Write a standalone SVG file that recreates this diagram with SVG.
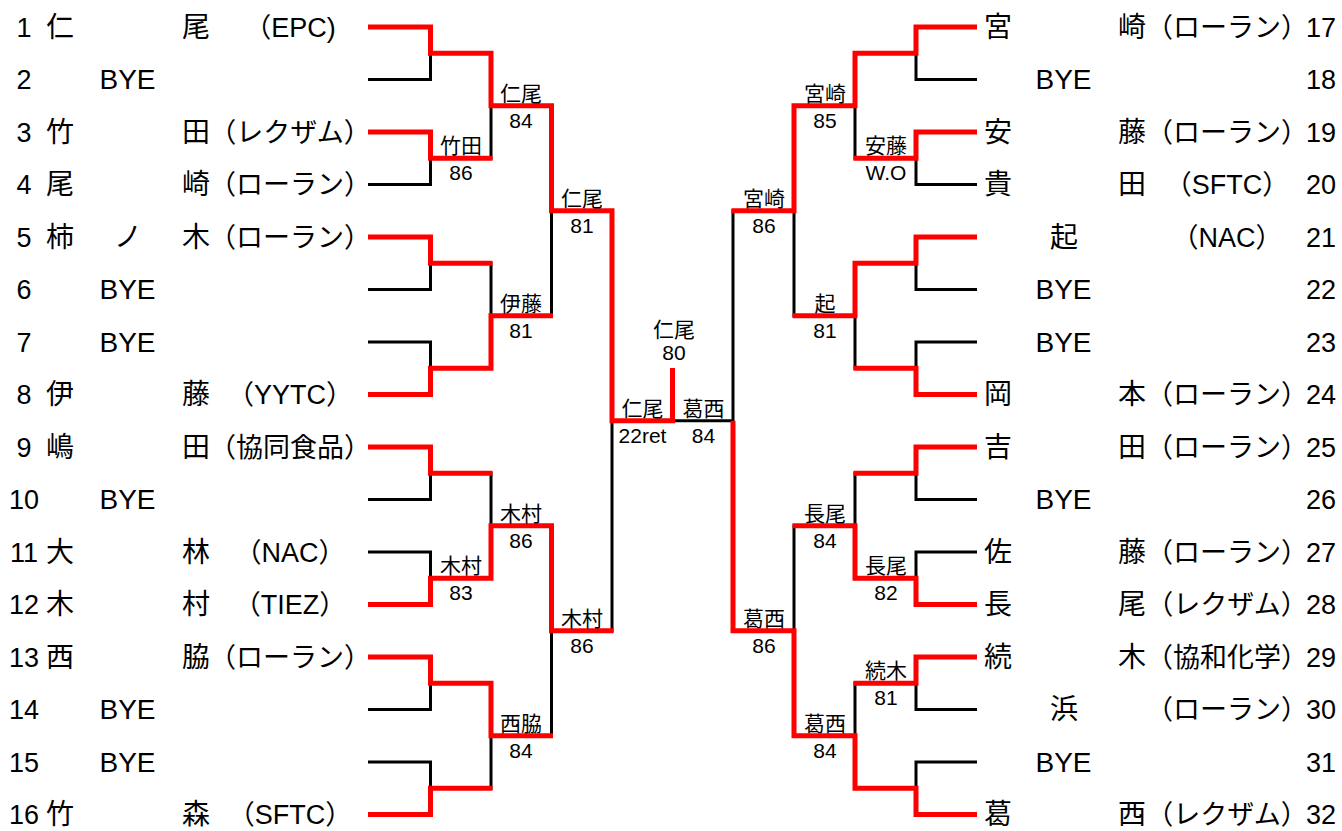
<svg xmlns="http://www.w3.org/2000/svg" width="1342" height="831" viewBox="0 0 1342 831">
<style>
text{font-family:"Liberation Sans","Noto Sans CJK JP",sans-serif;fill:#000}
.t{font-size:28px}
.c{font-size:27px;text-anchor:middle}
.n{font-size:27px;text-anchor:middle}
.m{text-anchor:middle}
.e{text-anchor:end}
.l{font-size:21px;text-anchor:middle}
.bk{fill:none;stroke:#000;stroke-width:3}
.rd{fill:none;stroke:#f00;stroke-width:5;stroke-linejoin:miter}
</style>
<rect width="1342" height="831" fill="#fff"/>
<g id="connectors">
<path class="bk" d="M368 27H430.5V79.5H368M368 132H430.5V184.5H368M368 237H430.5V289.5H368M368 342H430.5V394.5H368M368 447H430.5V499.5H368M368 552H430.5V604.5H368M368 657H430.5V709.5H368M368 762H430.5V814.5H368"/>
<path class="bk" d="M430.5 53.25H491V158.25H430.5M430.5 263.25H491V368.25H430.5M430.5 473.25H491V578.25H430.5M430.5 683.25H491V788.25H430.5"/>
<path class="bk" d="M491 105.75H551.5V315.75H491M491 525.75H551.5V735.75H491"/>
<path class="bk" d="M551.5 210.75H612V630.75H551.5M612 420.75H733"/>
<path class="bk" d="M977 27H916V79.5H977M977 132H916V184.5H977M977 237H916V289.5H977M977 342H916V394.5H977M977 447H916V499.5H977M977 552H916V604.5H977M977 657H916V709.5H977M977 762H916V814.5H977"/>
<path class="bk" d="M916 53.25H855V158.25H916M916 263.25H855V368.25H916M916 473.25H855V578.25H916M916 683.25H855V788.25H916"/>
<path class="bk" d="M855 105.75H794V315.75H855M855 525.75H794V735.75H855"/>
<path class="bk" d="M794 210.75H733V630.75H794"/>
<path class="rd" d="M368 27H430.5V53.25H491V105.75H551.5V210.75H612V420.75H672.5V368"/>
<path class="rd" d="M368 132H430.5V158.25H492.5"/>
<path class="rd" d="M368 237H430.5V263.25H492.5"/>
<path class="rd" d="M368 394.5H430.5V368.25H491V315.75H553"/>
<path class="rd" d="M368 447H430.5V473.25H492.5"/>
<path class="rd" d="M368 604.5H430.5V578.25H491V525.75H551.5V630.75H613.5"/>
<path class="rd" d="M368 657H430.5V683.25H491V735.75H553"/>
<path class="rd" d="M368 814.5H430.5V788.25H492.5"/>
<path class="rd" d="M977 27H916V53.25H855V105.75H794V210.75H731.5"/>
<path class="rd" d="M977 132H916V158.25H853.5"/>
<path class="rd" d="M977 237H916V263.25H855V315.75H792.5"/>
<path class="rd" d="M977 394.5H916V368.25H853.5"/>
<path class="rd" d="M977 447H916V473.25H853.5"/>
<path class="rd" d="M977 604.5H916V578.25H855V525.75H792.5"/>
<path class="rd" d="M977 657H916V683.25H853.5"/>
<path class="rd" d="M977 814.5H916V788.25H855V735.75H794V630.75H733V420.75"/>
</g>
<g id="p1"><text class="n" x="24" y="36.5">1</text><text class="t" x="46" y="36.5">仁</text><text class="t e" x="210" y="36.5">尾</text><text class="c" x="290" y="36.5">（EPC)</text></g>
<g id="p2"><text class="n" x="24" y="89">2</text><text class="t m" x="127.5" y="89">BYE</text></g>
<g id="p3"><text class="n" x="24" y="141.5">3</text><text class="t" x="46" y="141.5">竹</text><text class="t e" x="210" y="141.5">田</text><text class="c" x="290" y="141.5">（レクザム）</text></g>
<g id="p4"><text class="n" x="24" y="194">4</text><text class="t" x="46" y="194">尾</text><text class="t e" x="210" y="194">崎</text><text class="c" x="290" y="194">（ローラン）</text></g>
<g id="p5"><text class="n" x="24" y="246.5">5</text><text class="t" x="46" y="246.5">柿</text><text class="t m" x="128" y="246.5">ノ</text><text class="t e" x="210" y="246.5">木</text><text class="c" x="290" y="246.5">（ローラン）</text></g>
<g id="p6"><text class="n" x="24" y="299">6</text><text class="t m" x="127.5" y="299">BYE</text></g>
<g id="p7"><text class="n" x="24" y="351.5">7</text><text class="t m" x="127.5" y="351.5">BYE</text></g>
<g id="p8"><text class="n" x="24" y="404">8</text><text class="t" x="46" y="404">伊</text><text class="t e" x="210" y="404">藤</text><text class="c" x="290" y="404">（YYTC）</text></g>
<g id="p9"><text class="n" x="24" y="456.5">9</text><text class="t" x="46" y="456.5">嶋</text><text class="t e" x="210" y="456.5">田</text><text class="c" x="290" y="456.5">（協同食品）</text></g>
<g id="p10"><text class="n" x="24" y="509">10</text><text class="t m" x="127.5" y="509">BYE</text></g>
<g id="p11"><text class="n" x="24" y="561.5">11</text><text class="t" x="46" y="561.5">大</text><text class="t e" x="210" y="561.5">林</text><text class="c" x="290" y="561.5">（NAC）</text></g>
<g id="p12"><text class="n" x="24" y="614">12</text><text class="t" x="46" y="614">木</text><text class="t e" x="210" y="614">村</text><text class="c" x="290" y="614">（TIEZ）</text></g>
<g id="p13"><text class="n" x="24" y="666.5">13</text><text class="t" x="46" y="666.5">西</text><text class="t e" x="210" y="666.5">脇</text><text class="c" x="290" y="666.5">（ローラン）</text></g>
<g id="p14"><text class="n" x="24" y="719">14</text><text class="t m" x="127.5" y="719">BYE</text></g>
<g id="p15"><text class="n" x="24" y="771.5">15</text><text class="t m" x="127.5" y="771.5">BYE</text></g>
<g id="p16"><text class="n" x="24" y="824">16</text><text class="t" x="46" y="824">竹</text><text class="t e" x="210" y="824">森</text><text class="c" x="290" y="824">（SFTC）</text></g>
<g id="p17"><text class="n" x="1321" y="36.5">17</text><text class="t" x="984" y="36.5">宮</text><text class="t e" x="1146" y="36.5">崎</text><text class="c" x="1227" y="36.5">（ローラン）</text></g>
<g id="p18"><text class="n" x="1321" y="89">18</text><text class="t m" x="1063.5" y="89">BYE</text></g>
<g id="p19"><text class="n" x="1321" y="141.5">19</text><text class="t" x="984" y="141.5">安</text><text class="t e" x="1146" y="141.5">藤</text><text class="c" x="1227" y="141.5">（ローラン）</text></g>
<g id="p20"><text class="n" x="1321" y="194">20</text><text class="t" x="984" y="194">貴</text><text class="t e" x="1146" y="194">田</text><text class="c" x="1227" y="194">（SFTC）</text></g>
<g id="p21"><text class="n" x="1321" y="246.5">21</text><text class="t m" x="1064" y="246.5">起</text><text class="c" x="1227" y="246.5">（NAC）</text></g>
<g id="p22"><text class="n" x="1321" y="299">22</text><text class="t m" x="1063.5" y="299">BYE</text></g>
<g id="p23"><text class="n" x="1321" y="351.5">23</text><text class="t m" x="1063.5" y="351.5">BYE</text></g>
<g id="p24"><text class="n" x="1321" y="404">24</text><text class="t" x="984" y="404">岡</text><text class="t e" x="1146" y="404">本</text><text class="c" x="1227" y="404">（ローラン）</text></g>
<g id="p25"><text class="n" x="1321" y="456.5">25</text><text class="t" x="984" y="456.5">吉</text><text class="t e" x="1146" y="456.5">田</text><text class="c" x="1227" y="456.5">（ローラン）</text></g>
<g id="p26"><text class="n" x="1321" y="509">26</text><text class="t m" x="1063.5" y="509">BYE</text></g>
<g id="p27"><text class="n" x="1321" y="561.5">27</text><text class="t" x="984" y="561.5">佐</text><text class="t e" x="1146" y="561.5">藤</text><text class="c" x="1227" y="561.5">（ローラン）</text></g>
<g id="p28"><text class="n" x="1321" y="614">28</text><text class="t" x="984" y="614">長</text><text class="t e" x="1146" y="614">尾</text><text class="c" x="1227" y="614">（レクザム）</text></g>
<g id="p29"><text class="n" x="1321" y="666.5">29</text><text class="t" x="984" y="666.5">続</text><text class="t e" x="1146" y="666.5">木</text><text class="c" x="1227" y="666.5">（協和化学）</text></g>
<g id="p30"><text class="n" x="1321" y="719">30</text><text class="t m" x="1064" y="719">浜</text><text class="c" x="1227" y="719">（ローラン）</text></g>
<g id="p31"><text class="n" x="1321" y="771.5">31</text><text class="t m" x="1063.5" y="771.5">BYE</text></g>
<g id="p32"><text class="n" x="1321" y="824">32</text><text class="t" x="984" y="824">葛</text><text class="t e" x="1146" y="824">西</text><text class="c" x="1227" y="824">（レクザム）</text></g>
<g id="m1"><text class="l" x="461" y="153">竹田</text><text class="l" x="461" y="180">86</text></g>
<g id="m2"><text class="l" x="461" y="573">木村</text><text class="l" x="461" y="600">83</text></g>
<g id="m3"><text class="l" x="521" y="100.5">仁尾</text><text class="l" x="521" y="127.5">84</text></g>
<g id="m4"><text class="l" x="521" y="310.5">伊藤</text><text class="l" x="521" y="337.5">81</text></g>
<g id="m5"><text class="l" x="521" y="520.5">木村</text><text class="l" x="521" y="547.5">86</text></g>
<g id="m6"><text class="l" x="521" y="730.5">西脇</text><text class="l" x="521" y="757.5">84</text></g>
<g id="m7"><text class="l" x="582" y="205.5">仁尾</text><text class="l" x="582" y="232.5">81</text></g>
<g id="m8"><text class="l" x="582" y="625.5">木村</text><text class="l" x="582" y="652.5">86</text></g>
<g id="m9"><text class="l" x="642.5" y="415.5">仁尾</text><text class="l" x="642.5" y="442.5">22ret</text></g>
<g id="m10"><text class="l" x="703.5" y="415.5">葛西</text><text class="l" x="703.5" y="442.5">84</text></g>
<g id="m11"><text class="l" x="674" y="337">仁尾</text><text class="l" x="674" y="360">80</text></g>
<g id="m12"><text class="l" x="886" y="153">安藤</text><text class="l" x="886" y="180">W.O</text></g>
<g id="m13"><text class="l" x="886" y="573">長尾</text><text class="l" x="886" y="600">82</text></g>
<g id="m14"><text class="l" x="886" y="678">続木</text><text class="l" x="886" y="705">81</text></g>
<g id="m15"><text class="l" x="825" y="100.5">宮崎</text><text class="l" x="825" y="127.5">85</text></g>
<g id="m16"><text class="l" x="825" y="310.5">起</text><text class="l" x="825" y="337.5">81</text></g>
<g id="m17"><text class="l" x="825" y="520.5">長尾</text><text class="l" x="825" y="547.5">84</text></g>
<g id="m18"><text class="l" x="825" y="730.5">葛西</text><text class="l" x="825" y="757.5">84</text></g>
<g id="m19"><text class="l" x="764" y="205.5">宮崎</text><text class="l" x="764" y="232.5">86</text></g>
<g id="m20"><text class="l" x="764" y="625.5">葛西</text><text class="l" x="764" y="652.5">86</text></g>
</svg>
